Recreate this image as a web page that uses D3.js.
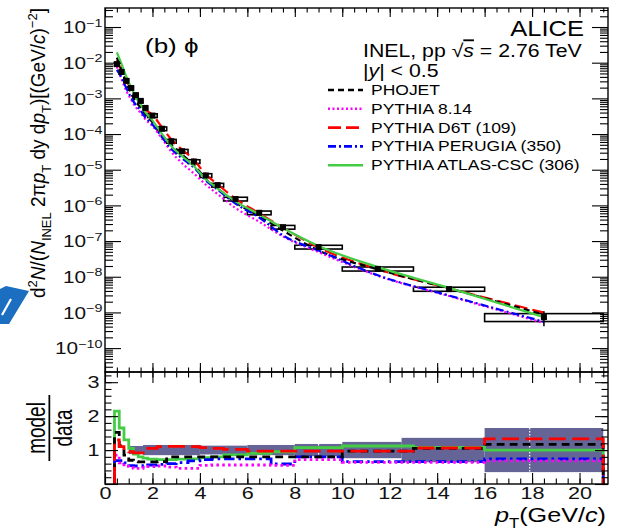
<!DOCTYPE html>
<html>
<head>
<meta charset="utf-8">
<script src="https://cdn.jsdelivr.net/npm/d3@7"></script>
<style>
body { margin: 0; background: #fff; }
svg { display: block; font-family: "Liberation Sans", Arial, Helvetica, sans-serif; }
</style>
</head>
<body>
<div id="chart"></div>
<script>
// phi spectrum, pp 2.76 TeV
const binEdges = [0.4, 0.6, 0.8, 1.0, 1.2, 1.4, 1.6, 1.8, 2.2, 2.6, 3.0, 3.5, 4.0, 4.5, 5.0, 6.0, 7.0, 8.0, 10, 13, 16, 21];
const yields = [9.1e-3, 5.5e-3, 3.1e-3, 1.95e-3, 1.23e-3, 8.5e-4, 5.4e-4, 3.3e-4, 1.41e-4, 6.3e-5, 3.3e-5, 1.7e-5,
                6.9e-6, 3.7e-6, 1.51e-6, 6.2e-7, 2.45e-7, 6.8e-8, 1.66e-8, 4.5e-9, 7.4e-10];
const statErr = [0.02, 0.02, 0.02, 0.02, 0.02, 0.02, 0.02, 0.02, 0.02, 0.02, 0.02, 0.03, 0.03, 0.03, 0.03, 0.04, 0.05, 0.05, 0.08, 0.15, 0.45];
const sysErr = [0.12, 0.12, 0.12, 0.12, 0.12, 0.12, 0.12, 0.12, 0.12, 0.12, 0.12, 0.12, 0.12, 0.12, 0.12, 0.12, 0.12, 0.12, 0.13, 0.13, 0.25];

// model / data ratios per bin
const phojet = [1.52, 1.12, 0.85, 0.70, 0.66, 0.65, 0.65, 0.65, 0.66, 0.80, 0.80, 0.80, 0.80, 0.80, 0.80, 0.80, 0.80, 0.80, 0.97, 1.05, 1.17];
const pythia814 = [0.85, 0.62, 0.52, 0.48, 0.46, 0.46, 0.48, 0.51, 0.53, 0.50, 0.46, 0.46, 0.55, 0.56, 0.56, 0.56, 0.55, 0.72, 0.64, 0.64, 0.68];
const d6t = [1.30, 1.10, 1.00, 0.95, 0.92, 0.92, 0.92, 1.05, 1.10, 1.11, 1.11, 1.10, 1.07, 1.05, 1.02, 0.97, 0.97, 0.97, 0.97, 1.06, 1.33];
const perugia = [0.69, 0.69, 0.62, 0.54, 0.53, 0.53, 0.54, 0.56, 0.58, 0.60, 0.63, 0.68, 0.72, 0.74, 0.74, 0.74, 0.59, 0.80, 0.66, 0.66, 0.74];
const atlasCsc = [2.15, 1.65, 1.30, 1.05, 0.88, 0.80, 0.76, 0.73, 0.72, 0.72, 0.73, 0.74, 0.78, 0.80, 0.86, 0.90, 0.95, 1.07, 1.12, 1.08, 1.00];

// data uncertainty band in the ratio panel
const bandEdges = [1.0, 1.6, 4.0, 6.0, 8.0, 10, 12.5, 16, 21];
const bandErr = [0.12, 0.15, 0.13, 0.15, 0.18, 0.24, 0.36, 0.65];
const statLinesX = [9.0, 17.9];

const xMajor = d3.range(0, 21, 2);
const xMinor = d3.range(0, 21.01, 0.5);
const ratioMajor = [0, 1, 2, 3];
const ratioMinor = d3.range(0, 3.3, 0.2);
const logMajor = d3.range(-10, 0).map(e => Math.pow(10, e));

const legendLabels = ['PHOJET', 'PYTHIA 8.14', 'PYTHIA D6T (109)', 'PYTHIA PERUGIA (350)', 'PYTHIA ATLAS-CSC (306)'];

(() => {
var width = 619,
    height = 531;

var svg = d3.select('#chart')
    .append('svg')
        .attr('width', width)
        .attr('height', height);

var x = d3.scaleLinear()
    .domain([0, 21.2])
    .range([105, 608]);

var yTop = d3.scaleLog()
    .domain([Math.pow(10, -10.67), Math.pow(10, -0.467)])
    .range([372, 8]);

var yRat = d3.scaleLinear()
    .domain([0, 3.3])
    .range([484, 372]);

var logMinor = [];
d3.range(-11, 0).forEach(e => {
    d3.range(2, 10).forEach(m => {
        var v = m * Math.pow(10, e);
        if (v > yTop.domain()[0] && v < yTop.domain()[1]) logMinor.push(v);
    });
});

var models = [
    {name: legendLabels[0], r: phojet, color: '#000000', dash: '6,4', draw: 3},
    {name: legendLabels[1], r: pythia814, color: '#ff00ff', dash: '2,2.5', draw: 2},
    {name: legendLabels[2], r: d6t, color: '#ff0000', dash: '13,5', draw: 4},
    {name: legendLabels[3], r: perugia, color: '#0000ff', dash: '8,3,2,3', draw: 1},
    {name: legendLabels[4], r: atlasCsc, color: '#44cc44', dash: null, draw: 0}
];

var bins = yields.map((v, i) => ({
    lo: binEdges[i], hi: binEdges[i + 1], c: (binEdges[i] + binEdges[i + 1]) / 2,
    v: v, stat: statErr[i], sys: sysErr[i]
}));

// stretch text horizontally like the reference
function stretch(sel, sx) {
    sel.attr('transform', function() {
        var t = d3.select(this).attr('transform') || '';
        return t + ' scale(' + sx + ',1)';
    });
}

svg.append('clipPath').attr('id', 'clipTop')
    .append('rect').attr('x', 105).attr('y', 8).attr('width', 503).attr('height', 364);
svg.append('clipPath').attr('id', 'clipRat')
    .append('rect').attr('x', 105).attr('y', 372).attr('width', 503).attr('height', 112);

// ---------- top panel ----------
var topG = svg.append('g').attr('clip-path', 'url(#clipTop)');

topG.selectAll('rect.sys')
    .data(bins)
    .enter()
    .append('rect')
        .attr('class', 'sys')
        .attr('x', d => x(d.lo))
        .attr('width', d => x(d.hi) - x(d.lo))
        .attr('y', d => yTop(d.v * (1 + d.sys)))
        .attr('height', d => yTop(d.v * (1 - d.sys)) - yTop(d.v * (1 + d.sys)))
        .style('fill', 'none')
        .style('stroke', '#000')
        .style('stroke-width', 1.6);

var curve = d3.line()
    .x(d => x(d.c))
    .y(d => yTop(d.v))
    .curve(d3.curveMonotoneX);

models.slice().sort((a, b) => b.draw - a.draw).forEach(m => {
    topG.append('path')
        .datum(bins.map((b, i) => ({c: b.c, v: b.v * m.r[i]})))
        .attr('d', curve)
        .style('fill', 'none')
        .style('stroke', m.color)
        .style('stroke-width', 2.2)
        .style('stroke-dasharray', m.dash);
});

topG.selectAll('line.stat')
    .data(bins)
    .enter()
    .append('line')
        .attr('x1', d => x(d.c))
        .attr('x2', d => x(d.c))
        .attr('y1', d => yTop(d.v * (1 + d.stat)))
        .attr('y2', d => yTop(d.v * (1 - d.stat)))
        .style('stroke', '#000')
        .style('stroke-width', 1.5);

topG.selectAll('rect.mk')
    .data(bins)
    .enter()
    .append('rect')
        .attr('x', d => x(d.c) - 3)
        .attr('y', d => yTop(d.v) - 3)
        .attr('width', 6)
        .attr('height', 6)
        .style('fill', '#000');

// ---------- ratio panel ----------
var rat = svg.append('g').attr('clip-path', 'url(#clipRat)');

rat.selectAll('rect.band')
    .data(bandErr)
    .enter()
    .append('rect')
        .attr('x', (d, i) => x(bandEdges[i]))
        .attr('width', (d, i) => x(bandEdges[i + 1]) - x(bandEdges[i]))
        .attr('y', d => yRat(1 + d))
        .attr('height', d => yRat(1 - d) - yRat(1 + d))
        .style('fill', '#646496');

rat.selectAll('line.wl')
    .data(statLinesX)
    .enter()
    .append('line')
        .attr('x1', d => x(d))
        .attr('x2', d => x(d))
        .attr('y1', d => yRat(1 + bandErr[d3.bisectRight(bandEdges, d) - 1]))
        .attr('y2', d => yRat(1 - bandErr[d3.bisectRight(bandEdges, d) - 1]))
        .style('stroke', '#fff')
        .style('stroke-width', 1.2)
        .style('stroke-dasharray', '1.5,1.5');

var step = d3.line()
    .x(d => x(d[0]))
    .y(d => yRat(d[1]));

models.slice().sort((a, b) => a.draw - b.draw).forEach(m => {
    var pts = [[binEdges[0], 0]];
    m.r.forEach((r, i) => { pts.push([binEdges[i], r]); pts.push([binEdges[i + 1], r]); });
    pts.push([binEdges[binEdges.length - 1], 0]);
    rat.append('path')
        .datum(pts)
        .attr('d', step)
        .style('fill', 'none')
        .style('stroke', m.color)
        .style('stroke-width', 2.8)
        .style('stroke-dasharray', m.dash ? m.dash.split(',').map(v => v * 1.3).join(',') : null);
});

// ---------- axes ----------
function ticks(axisFn, scale, values, size, tr) {
    return svg.append('g')
        .attr('transform', tr)
        .call(axisFn(scale).tickValues(values).tickSize(size).tickFormat(''))
        .call(g => g.select('.domain').remove())
        .call(g => g.selectAll('.tick line').style('stroke', '#000').style('stroke-width', 1.1));
}

// top panel
ticks(d3.axisLeft, yTop, logMajor, -16, 'translate(105,0)');
ticks(d3.axisLeft, yTop, logMinor, -8, 'translate(105,0)');
ticks(d3.axisRight, yTop, logMajor, -16, 'translate(608,0)');
ticks(d3.axisRight, yTop, logMinor, -8, 'translate(608,0)');
ticks(d3.axisTop, x, xMajor, -9, 'translate(0,8)');
ticks(d3.axisTop, x, xMinor, -4.5, 'translate(0,8)');
ticks(d3.axisBottom, x, xMajor, -9, 'translate(0,372)');
ticks(d3.axisBottom, x, xMinor, -4.5, 'translate(0,372)');

// ratio panel
ticks(d3.axisLeft, yRat, ratioMajor, -13, 'translate(105,0)');
ticks(d3.axisLeft, yRat, ratioMinor, -6.5, 'translate(105,0)');
ticks(d3.axisRight, yRat, ratioMajor, -13, 'translate(608,0)');
ticks(d3.axisRight, yRat, ratioMinor, -6.5, 'translate(608,0)');
ticks(d3.axisTop, x, xMajor, -11, 'translate(0,372)');
ticks(d3.axisTop, x, xMinor, -5.5, 'translate(0,372)');
ticks(d3.axisBottom, x, xMajor, -11, 'translate(0,484)');
ticks(d3.axisBottom, x, xMinor, -5.5, 'translate(0,484)');

// frames
[[8, 372], [372, 484]].forEach(p => {
    svg.append('rect')
        .attr('x', 105).attr('y', p[0])
        .attr('width', 503).attr('height', p[1] - p[0])
        .style('fill', 'none').style('stroke', '#000').style('stroke-width', 1.4);
});

// tick labels
var logLab = svg.append('g')
    .attr('transform', 'translate(105,0)')
    .call(d3.axisLeft(yTop).tickValues(logMajor).tickSize(0).tickPadding(2))
    .call(g => g.select('.domain').remove());
logLab.selectAll('.tick text')
    .text(null)
    .style('font-size', '16px')
    .style('fill', '#111')
    .attr('dy', '0.36em')
    .each(function(d) {
        var t = d3.select(this);
        t.append('tspan').text('10');
        t.append('tspan').attr('dy', '-0.6em').style('font-size', '11px')
            .text('\u2212' + Math.round(-Math.log10(d)));
    });
stretch(logLab.selectAll('.tick text'), 1.3);

var ratLab = svg.append('g')
    .attr('transform', 'translate(105,0)')
    .call(d3.axisLeft(yRat).tickValues([1, 2, 3]).tickSize(0).tickPadding(4).tickFormat(d3.format('d')))
    .call(g => g.select('.domain').remove());
ratLab.selectAll('.tick text').style('font-size', '16px').style('fill', '#111').attr('dy', '0.36em');
stretch(ratLab.selectAll('.tick text'), 1.35);

var xLab = svg.append('g')
    .attr('transform', 'translate(0,484)')
    .call(d3.axisBottom(x).tickValues(xMajor).tickSize(0).tickPadding(4).tickFormat(d3.format('d')))
    .call(g => g.select('.domain').remove());
xLab.selectAll('.tick text').style('font-size', '16px').style('fill', '#111');
stretch(xLab.selectAll('.tick text'), 1.35);

// axis titles
var yTitle = svg.append('text')
    .attr('transform', 'translate(45,8) scale(1.05,1) rotate(-90)')
    .attr('text-anchor', 'end')
    .style('font-size', '19px');
var shiftOf = {sup: -0.42, sub: 0.3};
[['d', null], ['2', 'sup'], ['N', 'it'], ['/(', null], ['N', 'it'], ['INEL', 'sub'], [' 2\u03c0', null], ['p', 'it'], ['T', 'sub'],
 [' dy d', null], ['p', 'it'], ['T', 'sub'], [')[(GeV/', null], ['c', 'it'], [')', null], ['\u22122', 'sup'], [']', null]]
.forEach((p, i, arr) => {
    var prev = i > 0 ? arr[i - 1][1] : null;
    var sp = yTitle.append('tspan').text(p[0]);
    var dy = (shiftOf[p[1]] || 0) - (shiftOf[prev] || 0);
    if (p[1] === 'sup' || p[1] === 'sub') sp.style('font-size', '13px');
    if (dy !== 0) sp.attr('dy', (dy * 19) + 'px');
    if (p[1] === 'it') sp.style('font-style', 'italic');
});

var mdG = svg.append('g').attr('transform', 'translate(48,428) scale(1.35,1) rotate(-90)');
mdG.append('text').attr('x', 0).attr('y', -2).attr('text-anchor', 'middle')
    .style('font-size', '19px').text('model');
mdG.append('text').attr('x', 0).attr('y', 18).attr('text-anchor', 'middle')
    .style('font-size', '19px').text('data');
mdG.append('line').attr('x1', -33).attr('x2', 33).attr('y1', 1).attr('y2', 1)
    .style('stroke', '#000').style('stroke-width', 1.3);

var xTitle = svg.append('text')
    .attr('transform', 'translate(606,522)')
    .attr('text-anchor', 'end')
    .style('font-size', '21px');
stretch(xTitle, 1.2);
xTitle.append('tspan').style('font-style', 'italic').text('p');
xTitle.append('tspan').attr('dy', 6).style('font-size', '14px').text('T');
xTitle.append('tspan').attr('dy', -6).text('(GeV/');
xTitle.append('tspan').style('font-style', 'italic').text('c');
xTitle.append('tspan').text(')');

// labels inside the plot
var lab = svg.append('text').attr('transform', 'translate(145,53)').style('font-size', '20px');
stretch(lab, 1.3);
lab.text('(b) \u03d5');

var alice = svg.append('text').attr('transform', 'translate(584,36)').attr('text-anchor', 'end')
    .style('font-size', '22px').text('ALICE');
stretch(alice, 1.16);

var inel = svg.append('text').attr('transform', 'translate(363,57)').style('font-size', '18.5px');
stretch(inel, 1.15);
inel.append('tspan').text('INEL, pp ');
inel.append('tspan').text('\u221a');
inel.append('tspan').style('font-style', 'italic').style('text-decoration', 'overline').text('s');
inel.append('tspan').text(' = 2.76 TeV');

var rap = svg.append('text').attr('transform', 'translate(363,77)').style('font-size', '18.5px');
stretch(rap, 1.15);
rap.append('tspan').text('|');
rap.append('tspan').style('font-style', 'italic').text('y');
rap.append('tspan').text('| < 0.5');

// legend
var legend = svg.append('g')
    .selectAll('g')
    .data(models)
    .enter()
    .append('g')
        .attr('transform', (d, i) => 'translate(328,' + (90 + i * 18.8) + ')');
legend.append('line')
    .attr('x1', 0).attr('x2', 35)
    .style('stroke', d => d.color)
    .style('stroke-width', 2.6)
    .style('stroke-dasharray', d => d.dash);
legend.append('text')
    .attr('transform', 'translate(43,5) scale(1.25,1)')
    .style('font-size', '14px')
    .text(d => d.name);

// blue arrow at the left edge of the picture
svg.append('path')
    .attr('d', d3.line()([[0, 289], [6, 286], [29, 291], [9, 324], [0, 324]]) + 'Z')
    .style('fill', '#1c6fc0');
svg.append('line')
    .attr('x1', 11).attr('y1', 299).attr('x2', 2).attr('y2', 315)
    .style('stroke', '#fff').style('stroke-width', 2.2);
})();
</script>
</body>
</html>
